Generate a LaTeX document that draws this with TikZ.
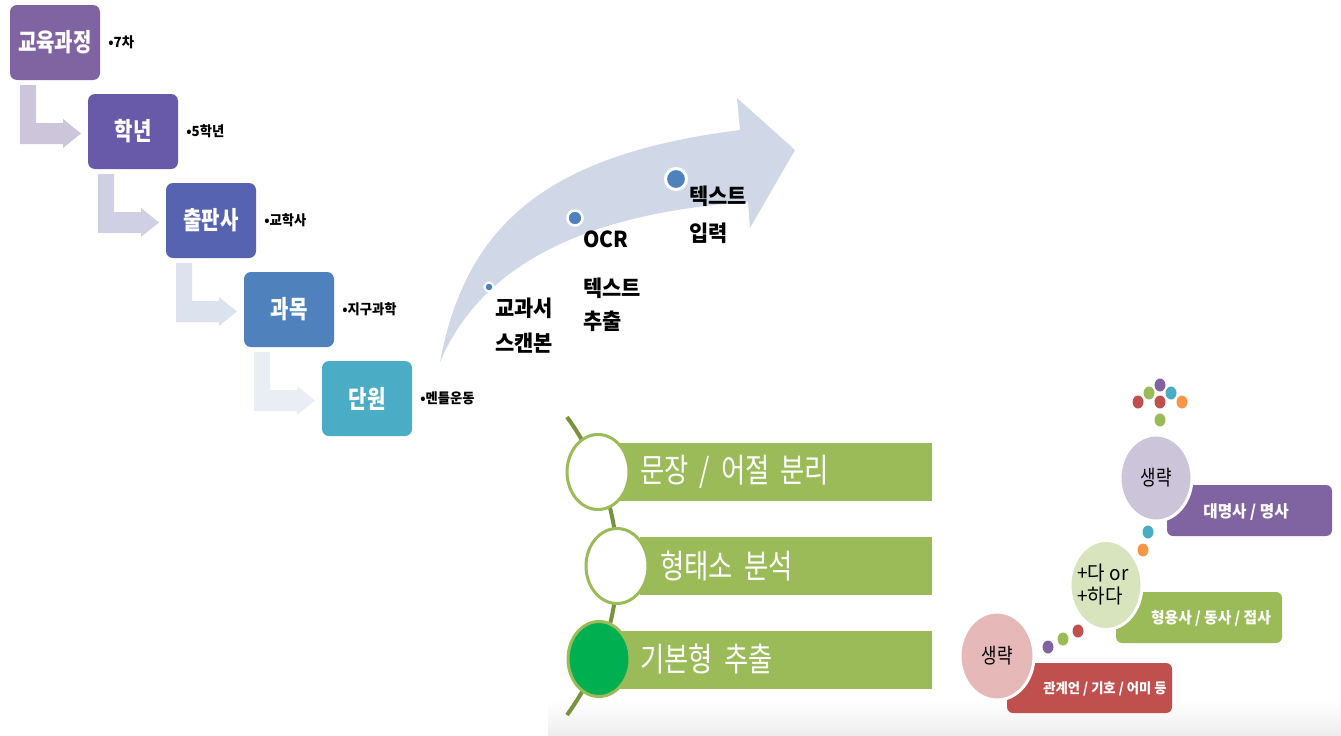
\documentclass[tikz,border=0pt]{standalone}
\usepackage{fontspec}
\setmainfont{Noto Sans CJK KR}[FakeStretch=0.8]
\newfontfamily\krwide{Noto Sans CJK KR}[FakeStretch=0.95]
\usetikzlibrary{positioning,shapes.geometric}

\definecolor{stepA}{RGB}{128,100,162}
\definecolor{stepB}{RGB}{104,90,168}
\definecolor{stepC}{RGB}{86,99,176}
\definecolor{stepD}{RGB}{79,129,189}
\definecolor{stepE}{RGB}{75,172,198}
\definecolor{arrA}{RGB}{205,198,218}
\definecolor{arrB}{RGB}{208,208,228}
\definecolor{arrC}{RGB}{220,226,238}
\definecolor{arrD}{RGB}{232,238,244}
\definecolor{flowband}{RGB}{208,216,232}
\definecolor{dotblue}{RGB}{79,129,189}
\definecolor{bargreen}{RGB}{155,187,89}
\definecolor{spine}{RGB}{119,147,60}
\definecolor{listgreen}{RGB}{0,176,80}
\definecolor{lavender}{RGB}{204,197,218}
\definecolor{palegreen}{RGB}{215,228,189}
\definecolor{palered}{RGB}{230,185,184}
\definecolor{tagpurple}{RGB}{128,100,162}
\definecolor{taggreen}{RGB}{155,187,89}
\definecolor{tagred}{RGB}{192,80,77}
\definecolor{dotcyan}{RGB}{75,172,198}
\definecolor{dotorange}{RGB}{247,150,70}

\begin{document}
\begin{tikzpicture}[x=1pt,y=-1pt,
    stepbox/.style={rounded corners=7pt, minimum width=90pt, minimum height=75pt,
        inner sep=0pt, text=white, font=\fontsize{25}{28}\selectfont\bfseries},
    notetext/.style={inner sep=0pt, font=\krwide\fontsize{14}{16}\selectfont\bfseries},
    flowtext/.style={inner sep=0pt, anchor=west, font=\krwide\fontsize{22}{24}\selectfont\bfseries},
    flowdot/.style={circle, draw=white, fill=dotblue, inner sep=0pt},
    listbar/.style={fill=bargreen, anchor=west, minimum height=58pt, inner xsep=20pt,
        inner ysep=0pt, align=left, text=white, font=\fontsize{33}{36}\selectfont},
    listring/.style={ellipse, draw=bargreen, line width=3pt, minimum width=62pt,
        minimum height=75pt, inner sep=0pt},
    tagbox/.style={rounded corners=6pt, minimum width=165pt, minimum height=51pt, inner sep=0pt},
    tagtext/.style={inner sep=0pt, text=white, font=\krwide\fontsize{16.5}{18}\selectfont\bfseries},
    bubble/.style={ellipse, draw=white, line width=3pt, inner sep=0pt,
        font=\fontsize{21}{24}\selectfont},
    speck/.style={ellipse, inner sep=0pt, minimum width=11pt, minimum height=13pt}]

    \useasboundingbox (0,0) rectangle (1341,736);

    % Step arrows
    \foreach \k/\col in {0/arrA,1/arrB,2/arrC,3/arrD}
        \fill[\col, shift={(78*\k,89*\k)}] (20,85) -- (36,85) -- (36,123) -- (63,123)
            -- (63,119) -- (81,133.5) -- (63,148) -- (63,144) -- (20,144) -- cycle;

    % Steps with notes
    \foreach \name/\txt/\note/\col [count=\k from 0] in
        {plan/교육과정/7차/stepA, grade/학년/5학년/stepB, pub/출판사/교학사/stepC,
         subj/과목/지구과학/stepD, unit/단원/멘틀운동/stepE} {
        \node[stepbox, fill=\col] (\name) at (55+78*\k,42.5+89*\k) {\txt};
        \node[notetext, right=8pt of \name] (\name-note) {•\note};
    }

    % Curved process arrow
    \fill[flowband] (440,362) .. controls (465,230) and (540,155) .. (740,130)
        -- (737,98) -- (795,150) -- (750,228) -- (748,202)
        .. controls (560,215) and (475,280) .. (440,362) -- cycle;
    \node[flowdot, line width=2pt, minimum size=9pt] (scan) at (489,287) {};
    \node[flowdot, line width=2.5pt, minimum size=15pt] (ocr) at (575,218) {};
    \node[flowdot, line width=3pt, minimum size=21pt] (input) at (676,179) {};
    \node[flowtext] (scan-a) at (495,308) {교과서};
    \node[flowtext] (scan-b) at (495,343) {스캔본};
    \node[flowtext] (ocr-a) at (583,239) {OCR};
    \node[flowtext] (ocr-b) at (583,288) {텍스트};
    \node[flowtext] (ocr-c) at (583,321) {추출};
    \node[flowtext] (input-a) at (689,196) {텍스트};
    \node[flowtext] (input-b) at (689,233) {입력};

    % Processing list
    \shade[top color=white, bottom color=black!7] (548,700) rectangle (1341,736);
    \coordinate (spine-top) at (567,417);
    \coordinate (spine-end) at (567,715);
    \draw[spine, line width=4pt] (spine-top) .. controls (634,510) and (634,622) .. (spine-end);
    \node[listbar, minimum width=312pt, text width=272pt] (split) at (620,472) {문장 / 어절 분리};
    \node[listbar, minimum width=292pt, text width=252pt] (morph) at (640,566) {형태소 분석};
    \node[listbar, minimum width=312pt, text width=272pt] (stem) at (620,659.5) {기본형 추출};
    \node[listring, fill=white] (split-ring) at (598,472) {};
    \node[listring, fill=white] (morph-ring) at (617,566) {};
    \node[listring, fill=listgreen] (stem-ring) at (599,659) {};

    % Word classes
    \node[tagbox, fill=tagpurple] (noun) at (1249.5,510.5) {};
    \node[tagbox, fill=taggreen, minimum width=166pt] (verb) at (1199,617.5) {};
    \node[tagbox, fill=tagred, minimum height=50pt] (rest) at (1089.5,688) {};
    \node[tagtext] (noun-txt) at (1246,512) {대명사 / 명사};
    \node[tagtext, font=\krwide\fontsize{15.5}{18}\selectfont\bfseries] (verb-txt) at (1211,618) {형용사 / 동사 / 접사};
    \node[tagtext, font=\krwide\fontsize{14}{16}\selectfont\bfseries] (rest-txt) at (1105,689) {관계언 / 기호 / 어미 등};
    \node[bubble, fill=lavender, minimum width=72pt, minimum height=86pt] (drop-top) at (1156,478) {생략};
    \node[bubble, fill=palegreen, minimum width=72pt, minimum height=89pt] (add) at (1106,585) {};
    \node[inner sep=0pt, anchor=west, align=left, font=\krwide\fontsize{20}{23}\selectfont] (add-txt)
        at (1077,585) {+다 or\\+하다};
    \node[bubble, fill=palered, minimum width=74pt, minimum height=88pt] (drop-low) at (997,656) {생략};

    % Dots
    \foreach \px/\py/\col in {1160/385/tagpurple, 1149/393/taggreen, 1171/393/dotcyan,
        1138/402/tagred, 1160/402/tagred, 1182/402/dotorange, 1160/420/taggreen,
        1148/532/dotcyan, 1143/550/dotorange,
        1078/631/tagred, 1063/639/taggreen, 1048/647/tagpurple}
        \node[speck, fill=\col] at (\px,\py) {};
\end{tikzpicture}
\end{document}
